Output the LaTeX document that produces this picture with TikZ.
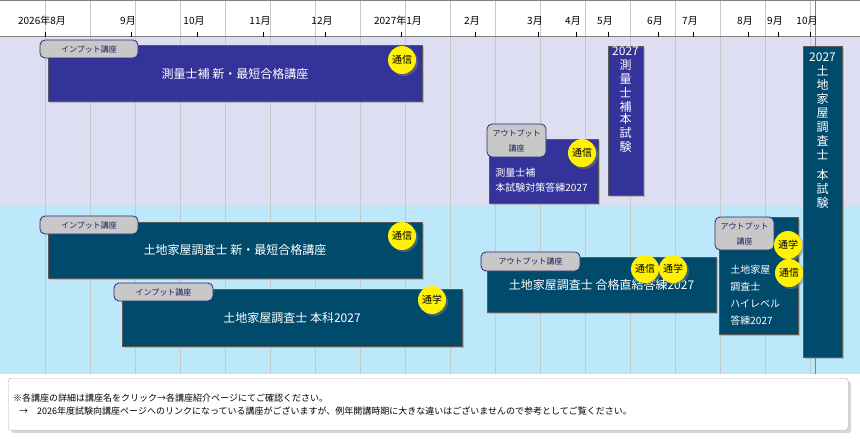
\documentclass[tikz,border=0pt]{standalone}
\usepackage{fontspec}
\setmainfont{Noto Sans CJK JP}
\usetikzlibrary{shadows}
\definecolor{navy}{HTML}{333399}
\definecolor{teal}{HTML}{004A6C}
\definecolor{lav}{HTML}{DEDEF2}
\definecolor{sky}{HTML}{BDE8FA}
\definecolor{grid}{HTML}{C8C8C8}
\tikzset{
 box/.style={draw=gray!70!black,line width=1pt,text=white,inner sep=0pt,drop shadow={shadow xshift=1.5pt,shadow yshift=-1.5pt,opacity=0.4}},
 tab/.style={draw=navy!80!black,fill=grid,rounded corners=5pt,line width=0.8pt,font=\fontsize{8}{10}\selectfont,text=navy!60!black,align=center,inner sep=0pt},
 badge/.style={circle,fill=yellow,minimum size=28pt,inner sep=0pt,font=\fontsize{10}{11}\selectfont,drop shadow={shadow xshift=2pt,shadow yshift=-2pt,opacity=0.5}},
 mon/.style={font=\fontsize{10}{12}\selectfont,anchor=base}
}
\begin{document}
\begin{tikzpicture}[x=1pt,y=-1pt]
\useasboundingbox (0,0) rectangle (860,444);
\fill[white] (0,0) rectangle (860,444);
\fill[lav] (0,37) rectangle (860,205);
\fill[sky] (0,205) rectangle (860,374);
\foreach \x in {45,90,...,810} \draw[grid] (\x,0) -- (\x,374);
\draw[gray] (815,0) -- (815,374);
\draw[gray,line width=1pt] (0,37) -- (860,37);
\draw[gray] (0,0.5) -- (860,0.5);
\foreach \x/\t in {42/2026年8月,128/9月,194/10月,260/11月,322/12月,398/2027年1月,472/2月,535/3月,573/4月,605/5月,655/6月,690/7月,745/8月,775/9月,807/10月}
 {\node[mon] (m\x) at (\x,25) {\t}; \draw (\x+3,32) -- (\x+3,37);}
% boxes
\node[box,fill=navy,minimum width=374pt,minimum height=56pt,font=\fontsize{12}{14}\selectfont] (b1) at (235,74) {測量士補 新・最短合格講座};
\node[tab,minimum width=98pt,minimum height=18pt] (t1) at (89,49) {インプット講座};
\node[badge] (c1) at (402,60) {通信};
\node[box,fill=navy,minimum width=35pt,minimum height=145pt,anchor=north,align=center,font=\fontsize{12}{14}\selectfont] (b2) at (625.5,46) {\raisebox{0pt}{}2027\\測\\量\\士\\補\\[-2pt]本\\試\\験\\[30pt]};
\node[box,fill=navy,minimum width=109pt,minimum height=64pt,align=left,font=\fontsize{10}{15}\selectfont] (b3) at (543.5,171) {\\[12pt]測量士補\\本試験対策答練2027\hspace*{4pt}};
\node[tab,minimum width=59pt,minimum height=33pt,font=\fontsize{8}{15}\selectfont] (t3) at (516.5,140.5) {アウトプット\\講座};
\node[badge] (c3) at (582,153) {通信};
\node[box,fill=teal,minimum width=374pt,minimum height=56pt,font=\fontsize{12}{14}\selectfont] (b4) at (235,250) {土地家屋調査士 新・最短合格講座};
\node[tab,minimum width=98pt,minimum height=18pt] (t4) at (89,225) {インプット講座};
\node[badge] (c4) at (402,236) {通信};
\node[box,fill=teal,minimum width=340pt,minimum height=57pt,font=\fontsize{12}{14}\selectfont] (b5) at (292,317.5) {\\[0pt]\raisebox{-6pt}{土地家屋調査士 本科2027}};
\node[tab,minimum width=99pt,minimum height=18pt] (t5) at (163.5,292) {インプット講座};
\node[badge] (c5) at (432,300) {通学};
\node[box,fill=teal,minimum width=229pt,minimum height=55pt,font=\fontsize{12}{14}\selectfont] (b6) at (601.5,284.5) {\raisebox{-8pt}{土地家屋調査士 合格直結答練2027}};
\node[tab,minimum width=99pt,minimum height=19pt] (t6) at (530.5,261.5) {アウトプット講座};
\node[badge] (c6a) at (645,269) {通信};
\node[badge] (c6b) at (673,269) {通学};
\node[box,fill=teal,minimum width=79pt,minimum height=117pt,align=left,font=\fontsize{10}{17}\selectfont] (b7) at (758.5,275.5) {\\[30pt]土地家屋\\調査士\\ハイレベル\\答練2027\hspace*{14pt}};
\node[tab,minimum width=59pt,minimum height=33pt,font=\fontsize{8}{15}\selectfont] (t7) at (744.5,233.5) {アウトプット\\講座};
\node[badge] (c7a) at (788,245) {通学};
\node[badge] (c7b) at (789,273) {通信};
\node[box,fill=teal,minimum width=39pt,minimum height=311pt,anchor=north,align=center,font=\fontsize{12}{14}\selectfont] (b8) at (822.5,46) {2027\\土\\地\\家\\屋\\調\\査\\士\\[6pt]本\\試\\験\\[130pt]};
% note
\node[draw=gray!60,fill=white,rounded corners=3pt,minimum width=840pt,minimum height=52pt,anchor=north west,align=left,text width=830pt,font=\fontsize{9}{13}\selectfont,drop shadow={shadow xshift=3pt,shadow yshift=-3pt,opacity=0.3}] (note) at (8,378) {※各講座の詳細は講座名をクリック→各講座紹介ページにてご確認ください。\\\hspace*{6pt}→　2026年度試験向講座ページへのリンクになっている講座がございますが、例年開講時期に大きな違いはございませんので参考としてご覧ください。\\[8pt]};
\end{tikzpicture}
\end{document}
